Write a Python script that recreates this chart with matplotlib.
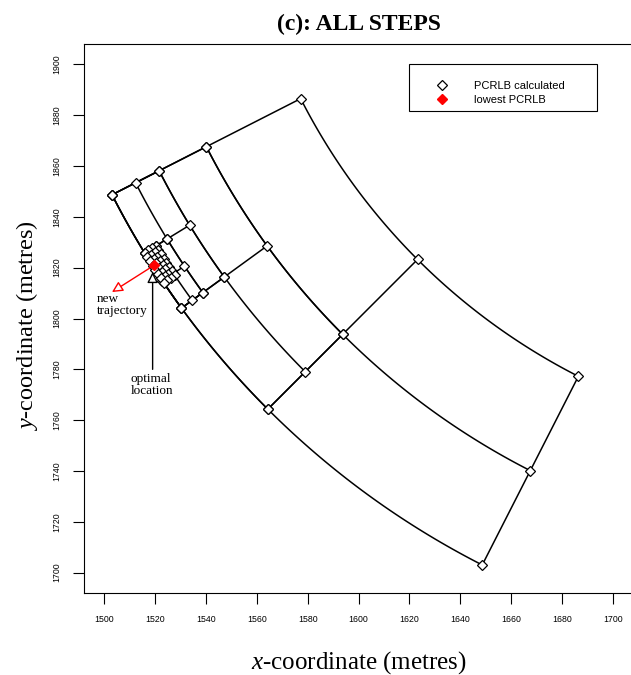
#Import necessary package
import numpy as np
import matplotlib
matplotlib.use("Agg")
import matplotlib.pyplot as plt
from matplotlib.lines import Line2D

plt.rcParams['font.family'] = ['Liberation Sans', 'DejaVu Sans']
plt.rcParams['mathtext.fontset'] = 'custom'
plt.rcParams['mathtext.rm'] = 'Liberation Serif'
plt.rcParams['mathtext.it'] = 'Liberation Serif:italic'

#Centre of the polar search grid (metres)
centre_x = 1800
centre_y = 2000

#Search region of each step: radius range (metres) and bearing range (degrees)
step_r_lo = [250.0, 291.65, 312.5, 322.9, 328.1]
step_r_hi = [333.3, 333.3, 333.3, 333.3, 333.3]
step_th_lo = [207.0, 207.0, 207.0, 211.5, 211.5]
step_th_hi = [243.0, 225.0, 216.0, 216.0, 213.9]
#Nodes per step along radius and along bearing
step_n_r = [3, 3, 3, 3, 4]
step_n_th = [3, 3, 3, 3, 8]

#Lowest PCRLB location
opt_x = 1519.7
opt_y = 1821.0

#New trajectory arrow end
traj_x = 1503.0
traj_y = 1810.4

#Axis ticks
x_ticks = np.arange(1500, 1701, 20)
y_ticks = np.arange(1700, 1901, 20)


def polar_xy(r, th):
    t = np.radians(th)
    return centre_x + r * np.cos(t), centre_y + r * np.sin(t)


fig = plt.figure(figsize=(6.31, 6.75), dpi=100)
ax = fig.add_axes([84 / 631, 82 / 675, 549 / 631, 549 / 675])

#Draw every step: arcs, radial lines and nodes
for k in range(len(step_r_lo)):
    rs = np.linspace(step_r_lo[k], step_r_hi[k], step_n_r[k])
    ths = np.linspace(step_th_lo[k], step_th_hi[k], step_n_th[k])
    for r in rs:
        x, y = polar_xy(r, np.linspace(ths[0], ths[-1], 80))
        ax.plot(x, y, color='black', lw=1.1, zorder=2)
    for th in ths:
        x, y = polar_xy(np.array([rs[0], rs[-1]]), th)
        ax.plot(x, y, color='black', lw=1.1, zorder=2)
    R, T = np.meshgrid(rs, ths)
    x, y = polar_xy(R.ravel(), T.ravel())
    ax.plot(x, y, 'D', ms=4.6, mfc='white', mec='black', mew=0.9, zorder=3)

#Lowest PCRLB
ax.plot(opt_x, opt_y, 'D', ms=4.6, mfc='red', mec='red', zorder=4)

#Annotations
ax.annotate('', xy=(traj_x, traj_y), xytext=(opt_x, opt_y),
            arrowprops=dict(arrowstyle='-|>', color='red', fc='white', lw=1,
                            mutation_scale=16, shrinkA=0, shrinkB=0), zorder=5)
ax.text(1497.1, 1805.3, 'new\ntrajectory', ha='left', va='center',
        family='Liberation Serif', fontsize=9.5, linespacing=1.0)
ax.annotate('', xy=(1519.0, 1818.3), xytext=(1519.0, 1780.0),
            arrowprops=dict(arrowstyle='-|>', color='black', fc='white', lw=1,
                            mutation_scale=16, shrinkA=0, shrinkB=0), zorder=5)
ax.text(1518.8, 1774.0, 'optimal\nlocation', ha='center', va='center',
        family='Liberation Serif', fontsize=9.5, linespacing=1.0,
        multialignment='left')

#Legend
handles = [Line2D([], [], ls='none', marker='D', ms=5.5, mfc='white', mec='black', mew=0.9),
           Line2D([], [], ls='none', marker='D', ms=5.5, mfc='red', mec='red')]
leg = ax.legend(handles, ['PCRLB calculated', 'lowest PCRLB'], loc='upper left',
                bbox_to_anchor=((409 - 84) / 549, (593 - 64) / 549, 188 / 549, 0.0),
                mode='expand', borderaxespad=0, fancybox=False, framealpha=1,
                edgecolor='black', fontsize=8, borderpad=0.55, handlelength=4.86,
                handletextpad=0.45, labelspacing=0.35, title=' ', title_fontsize=5.5)
leg.get_frame().set_linewidth(0.8)

#Axes
ax.set_xlim(1492, 1708)
ax.set_ylim(1692, 1908)
ax.set_xticks(x_ticks)
ax.set_yticks(y_ticks)
ax.tick_params(labelsize=6.3, length=8, width=0.8, pad=8)
for lab in ax.get_yticklabels():
    lab.set_rotation(90)
    lab.set_va('center')
for sp in ax.spines.values():
    sp.set_linewidth(0.8)

ax.set_title('(c): ALL STEPS', family='Liberation Serif', fontweight='bold',
             fontsize=17, pad=10)
ax.set_xlabel(r'$x$-coordinate (metres)', family='Liberation Serif', fontsize=18, labelpad=18)
ax.set_ylabel(r'$y$-coordinate (metres)', family='Liberation Serif', fontsize=17.5)
ax.yaxis.set_label_coords(-0.08, 0.488)

fig.savefig('out.png', dpi=100)
